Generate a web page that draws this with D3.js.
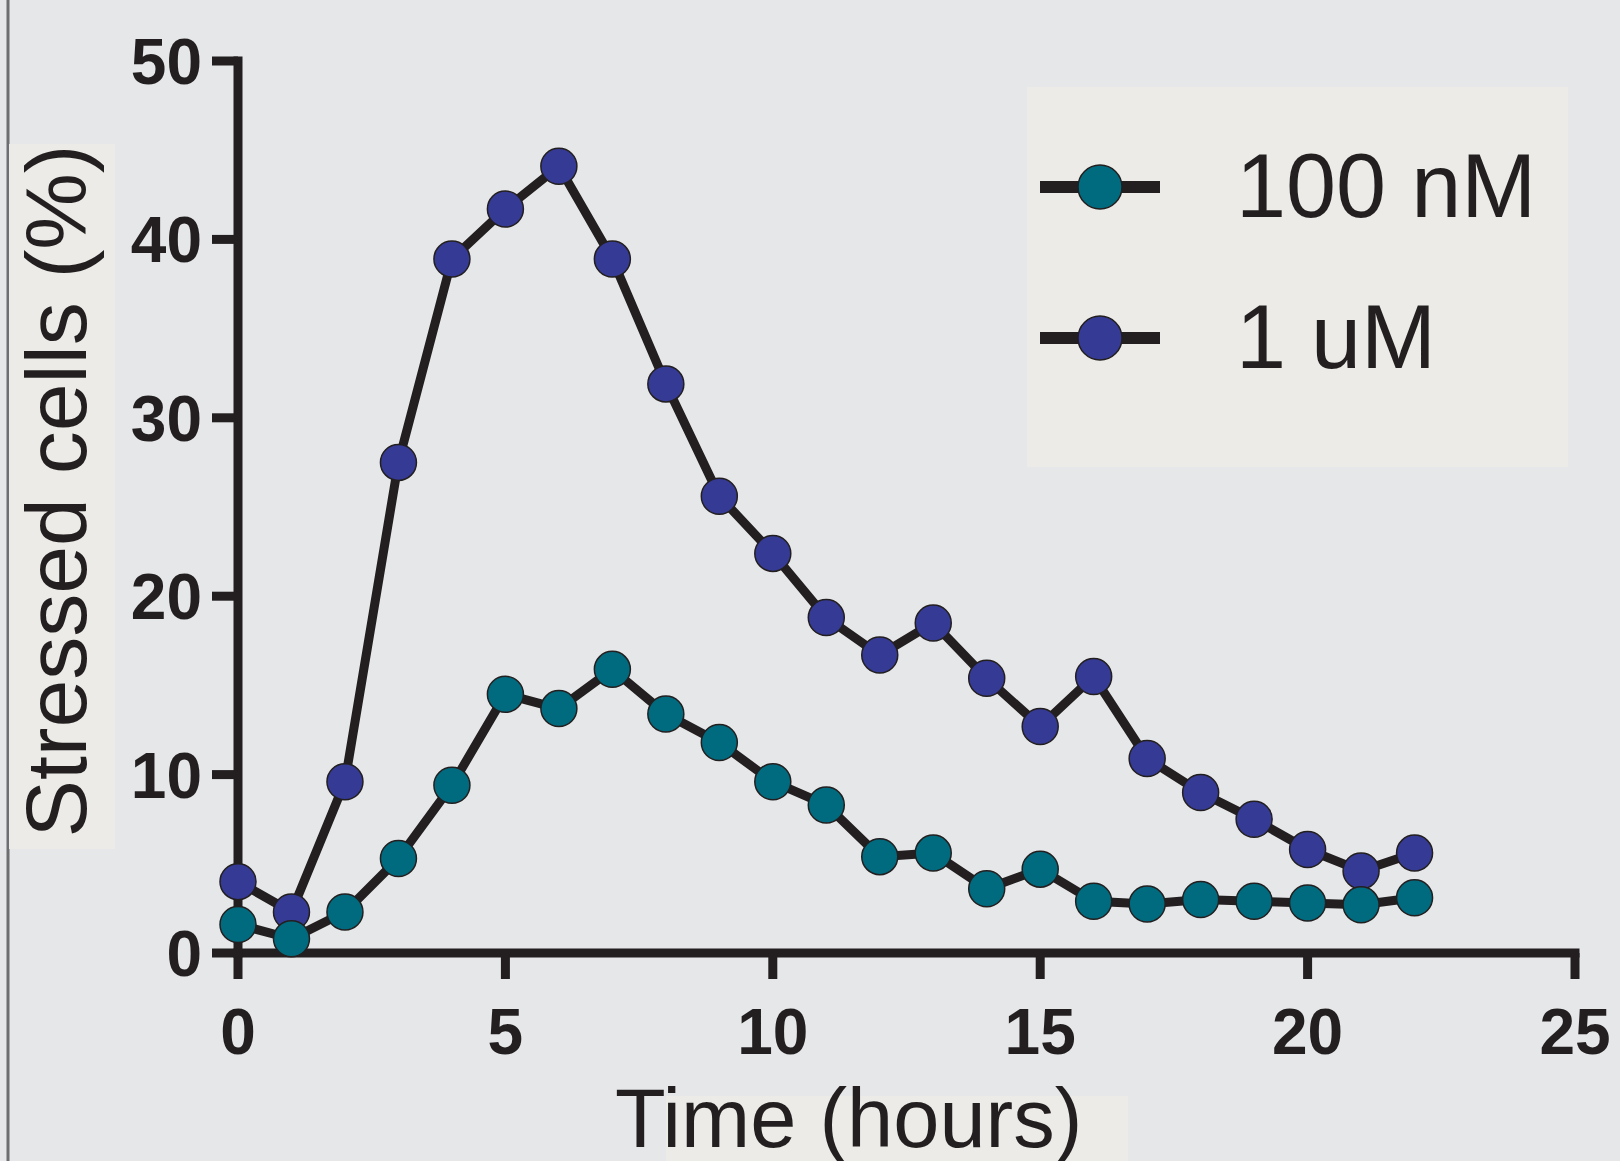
<!DOCTYPE html>
<html lang="en">
<head>
	<meta charset="UTF-8">
	<title>Stressed cells</title>
	<style>
		html,body{margin:0;padding:0;background:#e6e7e8;overflow:hidden;}
		svg{display:block;}
		text{font-family:"Liberation Sans",Arial,Helvetica,sans-serif;fill:#231f20;}
	</style>
</head>
<body>
</body>
<script src="https://cdn.jsdelivr.net/npm/d3@7/dist/d3.min.js"></script>
<script>
	// time points (hours)
	var hours=[0,1,2,3,4,5,6,7,8,9,10,11,12,13,14,15,16,17,18,19,20,21,22];
	// stressed cells (%) per dose
	var nM100=[1.6,0.8,2.3,5.3,9.4,14.5,13.7,15.9,13.4,11.8,9.6,8.3,5.4,5.6,3.6,4.7,2.9,2.75,3.0,2.9,2.8,2.7,3.1];
	var uM1=[4.0,2.3,9.6,27.5,38.9,41.7,44.1,38.9,31.9,25.6,22.4,18.8,16.7,18.5,15.4,12.7,15.5,10.9,9.0,7.5,5.8,4.6,5.6];
	var xTicks=[0,5,10,15,20,25];
	var yTicks=[0,10,20,30,40,50];
	var seriesNames=['100 nM','1 uM'];
	var seriesColors=['#006b7e','#353a94'];

	var width=1620;
	var height=1161;
	var ink='#231f20';

	var svg=d3.select('body')
				.append('svg')
				.attr('width',width)
				.attr('height',height);

	svg.append('rect')
		.attr('width',width)
		.attr('height',height)
		.attr('fill','#e6e7e8');

	// left frame line
	svg.append('line')
		.attr('x1',8).attr('x2',8)
		.attr('y1',0).attr('y2',height)
		.attr('stroke','#6d6e71')
		.attr('stroke-width',3);

	var xScale=d3.scaleLinear()
				.domain([0,25])
				.range([238,1575]);
	var yScale=d3.scaleLinear()
				.domain([0,50])
				.range([953,61]);

	// label boxes
	svg.append('rect')
		.attr('x',9).attr('y',144)
		.attr('width',106).attr('height',705)
		.attr('fill','#ecebe7');
	svg.append('rect')
		.attr('x',666).attr('y',1096)
		.attr('width',462).attr('height',65)
		.attr('fill','#ecebe7');
	svg.append('rect')
		.attr('x',1027).attr('y',87)
		.attr('width',541).attr('height',380)
		.attr('fill','#ecebe7');

	var xAxis=d3.axisBottom(xScale)
				.tickValues(xTicks)
				.tickSize(26)
				.tickSizeOuter(0)
				.tickPadding(30)
				.offset(0);
	var yAxis=d3.axisLeft(yScale)
				.tickValues(yTicks)
				.tickSize(26)
				.tickSizeOuter(0)
				.tickPadding(10)
				.offset(0);

	var gx=svg.append('g')
			.attr('class','xAxis')
			.attr('transform','translate(0,'+yScale(0)+')')
			.call(xAxis);
	var gy=svg.append('g')
			.attr('class','yAxis')
			.attr('transform','translate('+xScale(0)+',0)')
			.call(yAxis);

	svg.selectAll('.xAxis path,.yAxis path')
		.attr('stroke',ink)
		.attr('stroke-width',9)
		.attr('stroke-linecap','square');
	svg.selectAll('.xAxis line,.yAxis line')
		.attr('stroke',ink)
		.attr('stroke-width',9);
	svg.selectAll('.xAxis text,.yAxis text')
		.attr('fill',ink)
		.style('font-size','64px')
		.style('font-weight','bold')
		.attr('font-family',null);
	gx.selectAll('text').attr('dy','0.71em');
	gy.selectAll('text').attr('dy','0.36em');

	// axis titles
	svg.append('text')
		.attr('transform','translate(86,491) rotate(-90)')
		.attr('text-anchor','middle')
		.style('font-size','86px')
		.text('Stressed cells (%)');
	svg.append('text')
		.attr('x',615)
		.attr('y',1147)
		.style('font-size','83px')
		.text('Time (hours)');

	var line=d3.line()
			.x(function(d,i){ return xScale(hours[i]); })
			.y(function(d){ return yScale(d); });

	// 1 uM drawn first, 100 nM on top
	var series=[uM1,nM100];
	var colors=[seriesColors[1],seriesColors[0]];
	series.forEach(function(vals,k){
		svg.append('path')
			.datum(vals)
			.attr('d',line)
			.attr('fill','none')
			.attr('stroke',ink)
			.attr('stroke-width',9)
			.attr('stroke-linejoin','round');
		svg.append('g')
			.selectAll('circle')
			.data(vals)
			.enter()
			.append('circle')
			.attr('cx',function(d,i){ return xScale(hours[i]); })
			.attr('cy',function(d){ return yScale(d); })
			.attr('r',18)
			.attr('fill',colors[k])
			.attr('stroke',ink)
			.attr('stroke-width',1.5);
	});

	// legend
	var legend=svg.append('g')
			.selectAll('g')
			.data(seriesNames)
			.enter()
			.append('g')
			.attr('transform',function(d,i){ return 'translate(0,'+(187+i*151)+')'; });
	legend.append('line')
		.attr('x1',1040).attr('x2',1160)
		.attr('y1',0).attr('y2',0)
		.attr('stroke',ink)
		.attr('stroke-width',12);
	legend.append('circle')
		.attr('cx',1100).attr('cy',0)
		.attr('r',22)
		.attr('fill',function(d,i){ return seriesColors[i]; })
		.attr('stroke',ink)
		.attr('stroke-width',1.5);
	legend.append('text')
		.attr('x',1236)
		.attr('y',30)
		.style('font-size','90px')
		.text(function(d){ return d; });
</script>
</html>
